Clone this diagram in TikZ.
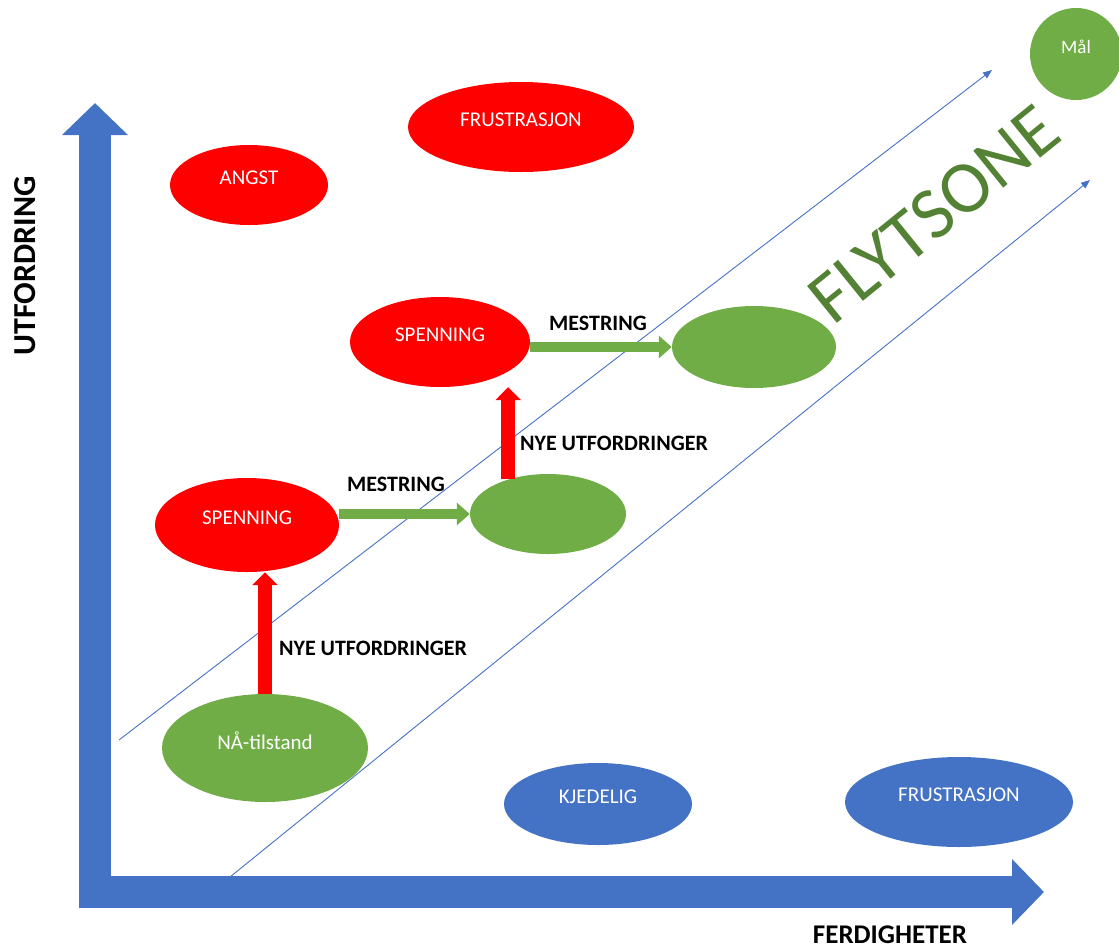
\documentclass[tikz,border=0pt]{standalone}
\usepackage{fontspec}
\setmainfont{Carlito}
\usetikzlibrary{arrows.meta}
\usetikzlibrary{shapes.geometric}
\definecolor{zonered}{HTML}{FF0000}
\definecolor{zonegreen}{HTML}{70AD47}
\definecolor{zoneblue}{HTML}{4472C4}
\definecolor{flowgreen}{HTML}{548235}
\tikzset{
    bubble/.style = {shape=ellipse,inner sep=0,text=white,text depth=14pt,font=\fontsize{21}{25}\selectfont},
    axis/.style = {zoneblue,line width=32pt,-{Triangle[length=32pt,width=64pt]}},
    axislabel/.style = {font=\fontsize{27}{32}\selectfont\bfseries},
    steplabel/.style = {font=\fontsize{22}{26}\selectfont\bfseries},
    %boundary/.style = {zoneblue,thin,-latex},
    boundary/.style = {zoneblue,line width=0.9pt,-{Triangle[length=9pt,width=7pt]}},
    challenge/.style = {zonered,line width=14pt,-{Triangle[length=13pt,width=25pt]}},
    mastery/.style = {zonegreen,line width=10pt,-{Triangle[length=13pt,width=22pt]}}
}

\begin{document}
\begin{tikzpicture}[x=1pt,y=-1pt]
        \useasboundingbox (0,0) rectangle (1119,946);
        % Axes
        \path (95,908) coordinate (ybot)
            to (95,103) coordinate (ytip)
        ;
        \path (79,892) coordinate (xbeg)
            to (1044,892) coordinate (xtip)
        ;
        \draw[axis] (ybot) to (ytip);
        \draw[axis] (xbeg) to (xtip);
        \node[axislabel,rotate=90,font=\fontsize{32}{36}\selectfont\bfseries] (ylab) at (25,266) {UTFORDRING};
        \node[axislabel] (xlab) at (890,935) {FERDIGHETER};
        % Zone edges
        \path (119,740) coordinate (upbeg)
            to (992,70) coordinate (upend)
        ;
        \path (230,877) coordinate (lowbeg)
            to (1090,180) coordinate (lowend)
        ;
        \foreach \src/\dest in {upbeg/upend,lowbeg/lowend}
            \draw[boundary] (\src) to (\dest);
        % Too hard
        \node[bubble,fill=zonered,minimum width=158pt,minimum height=80pt] (angst) at (249,185) {ANGST};
        \node[bubble,fill=zonered,minimum width=226pt,minimum height=90pt] (frusttop) at (521,127) {FRUSTRASJON};
        \node[bubble,fill=zonered,minimum width=184pt,minimum height=94pt] (spl) at (247,525) {SPENNING};
        \node[bubble,fill=zonered,minimum width=180pt,minimum height=90pt] (spu) at (440,342) {SPENNING};
        % Flow
        \node[bubble,fill=zonegreen,minimum width=206pt,minimum height=108pt] (now) at (265,748) {NÅ-tilstand};
        \node[bubble,fill=zonegreen,minimum width=156pt,minimum height=80pt] (mid) at (548,514) {};
        \node[bubble,fill=zonegreen,minimum width=164pt,minimum height=82pt] (high) at (754,347) {};
        \node[bubble,shape=circle,fill=zonegreen,minimum size=92pt,font=\fontsize{19}{23}\selectfont] (goal) at (1076,54) {Mål};
        \node[font=\fontsize{74}{78}\selectfont,text=flowgreen,rotate=39] (flow) at (934,214) {FLYTSONE};
        % Too easy
        \node[bubble,fill=zoneblue,minimum width=188pt,minimum height=82pt] (boring) at (598,804) {KJEDELIG};
        \node[bubble,fill=zoneblue,minimum width=228pt,minimum height=90pt] (frustlow) at (959,802) {FRUSTRASJON};
        % Steps
        \foreach \src/\dest in {now.90/spl,mid.139/spu}
            \draw[challenge] (\src) to (\src |- \dest.south);
        \foreach \src/\dest in {spl/mid,spu/high}
            \draw[mastery] (\src.east |- \dest.west) to (\dest.west);
        \node[steplabel] (nyelow) at (373,648) {NYE UTFORDRINGER};
        \node[steplabel] (nyeup) at (614,443) {NYE UTFORDRINGER};
        \node[steplabel] (mestlow) at (396,484) {MESTRING};
        \node[steplabel] (mestup) at (598,323) {MESTRING};
    \end{tikzpicture}
\end{document}
